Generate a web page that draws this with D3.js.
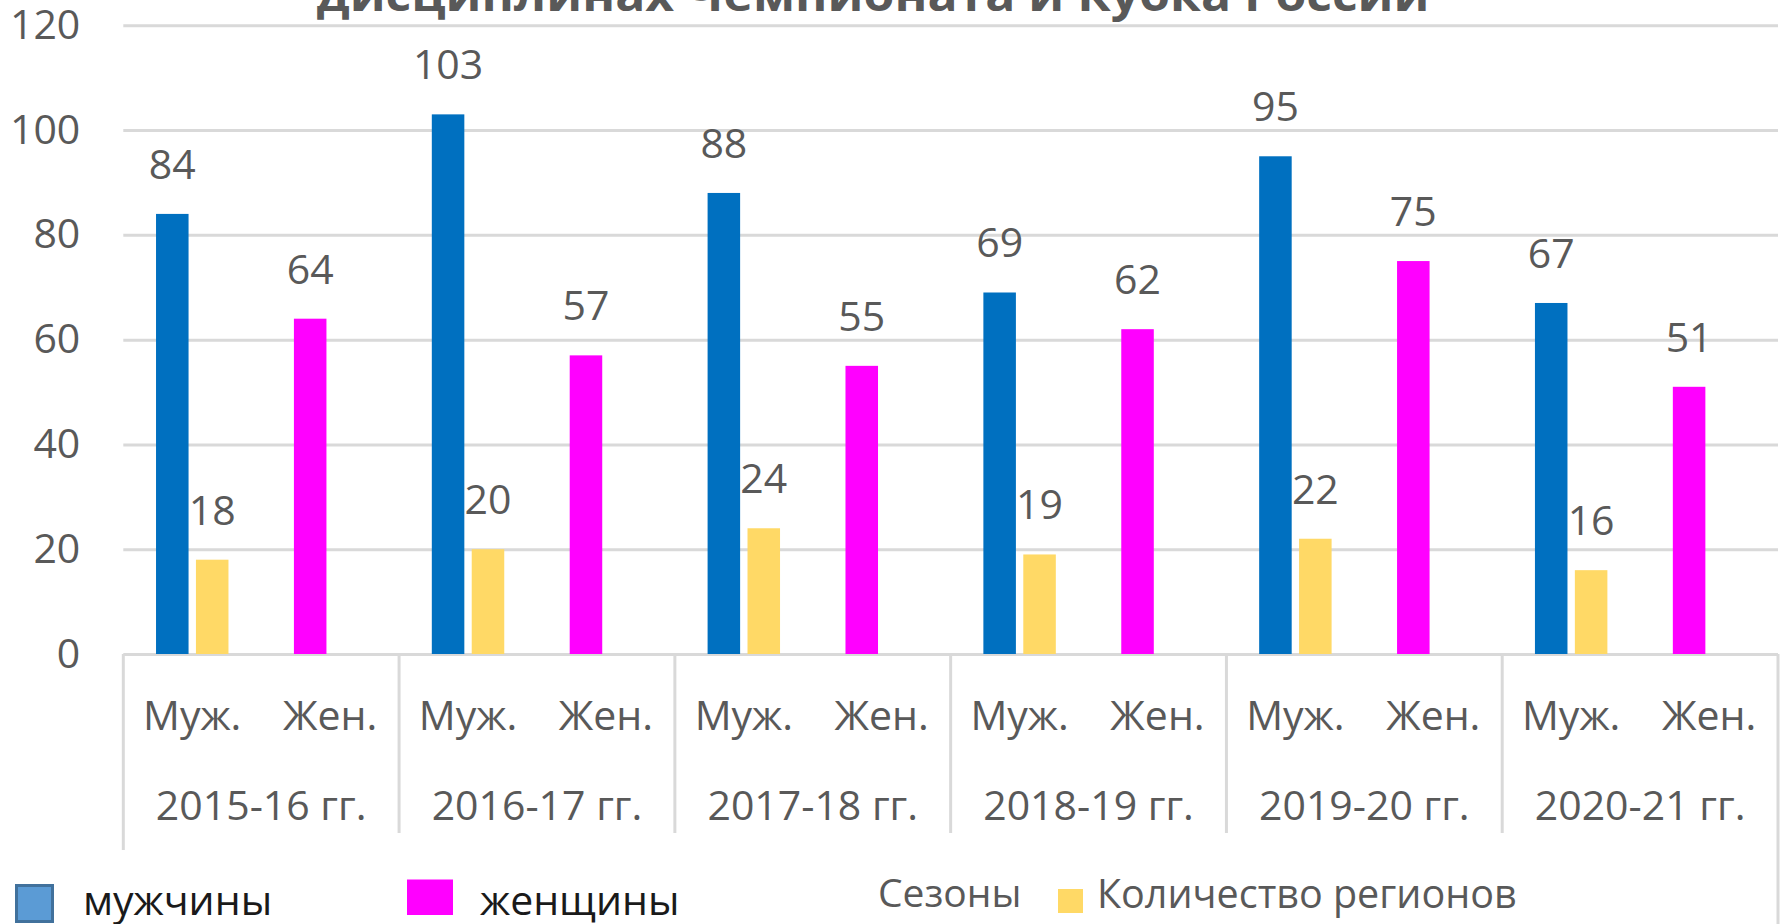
<!DOCTYPE html>
<html>
<head>
<meta charset="utf-8">
<script src="https://cdn.jsdelivr.net/npm/d3@7"></script>
<style>
  body { margin: 0; background: #fff; }
  text { font-family: "Open Sans", "Noto Sans", sans-serif; }
</style>
</head>
<body>
<script>
// data
var seasons = ["2015-16 гг.", "2016-17 гг.", "2017-18 гг.", "2018-19 гг.", "2019-20 гг.", "2020-21 гг."];
var subCats = ["Муж.", "Жен."];
var men = [84, 103, 88, 69, 95, 67];
var women = [64, 57, 55, 62, 75, 51];
var regions = [18, 20, 24, 19, 22, 16];
var yTicks = [0, 20, 40, 60, 80, 100, 120];
var titleText = "дисциплинах Чемпионата и Кубка России";

var width = 1787,
  height = 924;

// plot box (window.top is reserved, so own names)
var plotLeft = 123.3, plotRight = 1778, plotBase = 654, plotTop = 25.3;

var svg = d3.select("body").append("svg")
    .attr("width", width)
    .attr("height", height);

var x0 = d3.scaleBand().domain(seasons).range([plotLeft, plotRight]);
var x1 = d3.scaleBand().domain(subCats).range([0, x0.bandwidth()]);
var x2 = d3.scaleBand().domain(["main", "regions"])
  .range([0, x1.bandwidth()])
  .paddingInner(0.185)
  .paddingOuter(0.82);
var y = d3.scaleLinear().domain([0, 120]).range([plotBase, plotTop]);

// title (only its lower edge is in the frame)
svg.append("text")
  .attr("x", 873)
  .attr("y", 11)
  .attr("text-anchor", "middle")
  .attr("font-size", 44)
  .attr("font-weight", "bold")
  .attr("fill", "#595959")
  .attr("textLength", 1113)
  .attr("lengthAdjust", "spacingAndGlyphs")
  .text(titleText);

// grid + y labels
var yAxis = svg.append("g")
  .attr("transform", "translate(" + plotLeft + ",0)")
  .call(d3.axisLeft(y).tickValues(yTicks).tickSize(-(plotRight - plotLeft)).tickPadding(43));
yAxis.select(".domain").remove();
yAxis.selectAll(".tick line").attr("stroke", "#d9d9d9").attr("stroke-width", 3);
yAxis.selectAll(".tick text")
  .attr("font-size", 41)
  .attr("fill", "#595959")
  .attr("font-family", "Open Sans");

// category axis box
var sep = svg.append("g").attr("stroke", "#d9d9d9").attr("stroke-width", 3);
seasons.forEach(function(s, i){
  sep.append("line")
    .attr("x1", x0(s)).attr("x2", x0(s))
    .attr("y1", plotBase).attr("y2", i == 0 ? 850 : 833);
});
sep.append("line")
  .attr("x1", plotRight).attr("x2", plotRight)
  .attr("y1", plotBase).attr("y2", height);

seasons.forEach(function(s){
  subCats.forEach(function(c){
    svg.append("text")
      .attr("x", x0(s) + x1(c) + x1.bandwidth() / 2)
      .attr("y", 730)
      .attr("text-anchor", "middle")
      .attr("font-size", 41)
      .attr("fill", "#595959")
      .text(c);
  });
  svg.append("text")
    .attr("x", x0(s) + x0.bandwidth() / 2)
    .attr("y", 820)
    .attr("text-anchor", "middle")
    .attr("font-size", 41)
    .attr("fill", "#595959")
    .text(s);
});

// bars
var rows = [];
seasons.forEach(function(s, i){
  rows.push({season: s, sub: "Муж.", slot: "main", value: men[i], color: "#0070c0"});
  rows.push({season: s, sub: "Муж.", slot: "regions", value: regions[i], color: "#ffd966"});
  rows.push({season: s, sub: "Жен.", slot: "main", value: women[i], color: "#ff00ff"});
});

var bar = svg.selectAll(".bar")
  .data(rows)
  .enter().append("g")
  .attr("class", "bar");

bar.append("rect")
  .attr("x", function(d){ return x0(d.season) + x1(d.sub) + x2(d.slot); })
  .attr("y", function(d){ return y(d.value); })
  .attr("width", x2.bandwidth())
  .attr("height", function(d){ return plotBase - y(d.value); })
  .attr("fill", function(d){ return d.color; });

bar.append("text")
  .attr("x", function(d){ return x0(d.season) + x1(d.sub) + x2(d.slot) + x2.bandwidth() / 2; })
  .attr("y", function(d){ return y(d.value) - 35; })
  .attr("text-anchor", "middle")
  .attr("font-size", 41)
  .attr("fill", "#595959")
  .text(function(d){ return d.value; });

// legend
var legend = svg.append("g");
legend.append("rect")
  .attr("x", 16.5).attr("y", 885.5).attr("width", 36).attr("height", 36)
  .attr("fill", "#5b9bd5").attr("stroke", "#41719c").attr("stroke-width", 3);
legend.append("text")
  .attr("x", 83).attr("y", 915)
  .attr("font-size", 41).attr("fill", "#1a1a1a")
  .text("мужчины");
legend.append("rect")
  .attr("x", 407).attr("y", 879.5).attr("width", 46).attr("height", 35.5)
  .attr("fill", "#ff00ff");
legend.append("text")
  .attr("x", 480).attr("y", 915)
  .attr("font-size", 41).attr("fill", "#1a1a1a")
  .text("женщины");
legend.append("text")
  .attr("x", 878).attr("y", 907)
  .attr("font-size", 39).attr("fill", "#595959")
  .text("Сезоны");
legend.append("rect")
  .attr("x", 1058).attr("y", 889).attr("width", 25).attr("height", 24)
  .attr("fill", "#ffd966");
legend.append("text")
  .attr("x", 1097).attr("y", 908)
  .attr("font-size", 39.5).attr("fill", "#595959")
  .text("Количество регионов");
</script>
</body>
</html>
